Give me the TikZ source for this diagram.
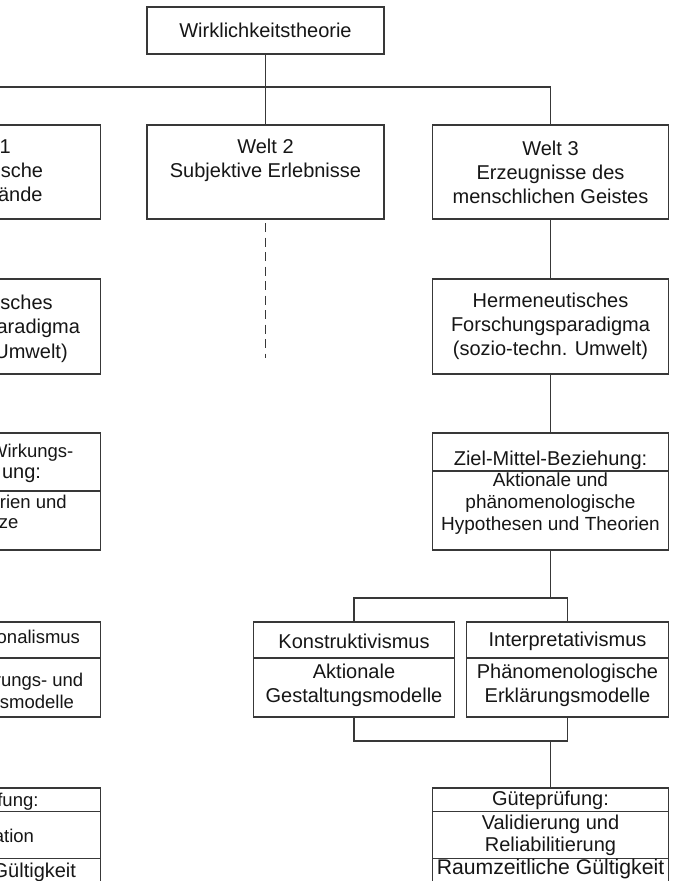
\documentclass[tikz,border=0pt]{standalone}
\usepackage{fontspec}
\setmainfont{Liberation Sans}
\definecolor{lc}{HTML}{383838}
\definecolor{tc}{HTML}{161616}
\tikzset{
  box/.style={draw=lc, line width=1.3pt, fill=white, inner sep=0pt, outer sep=0pt,
    text=tc, font=\fontsize{20}{24}\selectfont, align=center},
  conn/.style={draw=lc, line width=1.3pt},
  txt/.style={inner sep=0pt, outer sep=0pt, text=tc, font=\fontsize{20}{24}\selectfont, align=center},
  tight/.style={font=\fontsize{19}{22}\selectfont},
  big/.style={font=\fontsize{21.2}{24}\selectfont},
  frag/.style={inner sep=0pt, outer sep=0pt, text=tc, font=\fontsize{20}{24}\selectfont, anchor=base east},
  smallfrag/.style={frag, font=\fontsize{18.5}{22}\selectfont},
  wide/.style={minimum width=236pt},
}
\begin{document}
\begin{tikzpicture}[x=1pt,y=-1pt]
\useasboundingbox (0,0) rectangle (675,881);
\clip (0,0) rectangle (675,881);
\fill[white] (0,0) rectangle (675,881);

% top
\node[box, minimum width=237pt, minimum height=47pt] (T) at (265.5,30.5) {Wirklichkeitstheorie};

% row: Welten
\node[box, wide, minimum height=94pt] (W1) at (-17.5,172) {Welt 1\\Physikalische\\Gegenst\"ande};
\node[box, minimum width=237pt, minimum height=94pt] (W2) at (265.5,172) {};
\node[txt] (W2t) at (265.5,160) {Welt 2\\Subjektive Erlebnisse};
\node[box, wide, minimum height=94pt] (W3) at (550.5,172) {Welt 3\\Erzeugnisse des\\menschlichen Geistes};

% row: Paradigmen
\node[box, wide, minimum height=95pt] (L2) at (-17.5,326.5) {};
\node[frag] (L2a) at (52.7,309.5) {sches};
\node[frag] (L2b) at (80,333.5) {aradigma};
\node[frag] (L2c) at (67.7,358) {Umwelt)};
\node[box, wide, minimum height=95pt] (H) at (550.5,326.5) {Hermeneutisches\\Forschungsparadigma\\(sozio-techn. Umwelt)};

% row: Beziehungen
\node[box, wide, minimum height=117pt] (L3) at (-17.5,491.5) {};
\coordinate (l3d) at (0,491);
\draw[conn] (L3.west |- l3d) -- (L3.east |- l3d);
\node[smallfrag] (L3a) at (73.3,457) {Wirkungs-};
\node[frag] (L3b) at (41,478) {ung:};
\node[smallfrag] (L3c) at (66.7,508) {rien und};
\node[smallfrag] (L3d) at (18.3,528) {ze};

\node[box, wide, minimum height=117pt] (Z) at (550.5,491.5) {};
\coordinate (zd) at (0,471);
\draw[conn] (Z.west |- zd) -- (Z.east |- zd);
\node[txt] (Zh) at (550.5,460) {Ziel-Mittel-Beziehung:};
\node[txt, tight] (Zb) at (550.5,504) {Aktionale und\\ph\"anomenologische\\Hypothesen und Theorien};

% row: Ismen
\coordinate (kd) at (0,658);
\node[box, wide, minimum height=95pt] (L4) at (-17.5,669.5) {};
\draw[conn] (L4.west |- kd) -- (L4.east |- kd);
\node[smallfrag] (L4a) at (80,643) {onalismus};
\node[smallfrag] (L4b) at (83.3,686) {rungs- und};
\node[smallfrag] (L4c) at (74,708) {smodelle};

\node[box, minimum width=201pt, minimum height=95pt] (K) at (354,669.5) {};
\draw[conn] (K.west |- kd) -- (K.east |- kd);
\node[txt] (Kh) at (354,641.5) {Konstruktivismus};
\node[txt] (Kb) at (354,685) {Aktionale\\Gestaltungsmodelle};

\node[box, minimum width=202pt, minimum height=95pt] (I) at (567.5,669.5) {};
\draw[conn] (I.west |- kd) -- (I.east |- kd);
\node[txt] (Ih) at (567.5,641.5) {Interpretativismus};
\node[txt] (Ib) at (567.5,685) {Ph\"anomenologische\\Erkl\"arungsmodelle};

% row: Guetepruefung
\coordinate (gd1) at (0,811.5);
\coordinate (gd2) at (0,858.5);
\node[box, wide, minimum height=95pt] (L5) at (-17.5,835.5) {};
\draw[conn] (L5.west |- gd1) -- (L5.east |- gd1);
\draw[conn] (L5.west |- gd2) -- (L5.east |- gd2);
\node[smallfrag] (L5a) at (38.5,806) {fung:};
\node[smallfrag] (L5b) at (34,842) {ation};
\node[frag] (L5c) at (76,877) {G\"ultigkeit};

\node[box, wide, minimum height=95pt] (G) at (550.5,835.5) {};
\draw[conn] (G.west |- gd1) -- (G.east |- gd1);
\draw[conn] (G.west |- gd2) -- (G.east |- gd2);
\node[txt] (Gh) at (550.5,800) {G\"utepr\"ufung:};
\node[txt, font=\fontsize{20}{22}\selectfont] (Gb) at (550.5,835) {Validierung und\\Reliabilitierung};
\node[txt, big] (Gf) at (550.5,869.5) {Raumzeitliche G\"ultigkeit};

% connectors
\coordinate (bar) at (0,87);
\draw[conn] (T.south) -- (W2.north);
\draw[conn] (W1.north) -- (W1.north |- bar) -- (W3.north |- bar) -- (W3.north);
\coordinate (dend) at (265.5,358);
\draw[conn, dash pattern=on 9pt off 5.5pt, dash phase=10.5pt] (W2.south) -- (dend);
\draw[conn] (W3.south) -- (H.north);
\draw[conn] (H.south) -- (Z.north);
\coordinate (s1) at (550.5,598);
\draw[conn] (Z.south) -- (s1);
\draw[conn] (K.north) -- (K.north |- s1) -- (I.north |- s1) -- (I.north);
\coordinate (s2) at (550.5,741);
\draw[conn] (K.south) -- (K.south |- s2) -- (I.south |- s2) -- (I.south);
\draw[conn] (s2) -- (G.north);
\end{tikzpicture}
\end{document}
